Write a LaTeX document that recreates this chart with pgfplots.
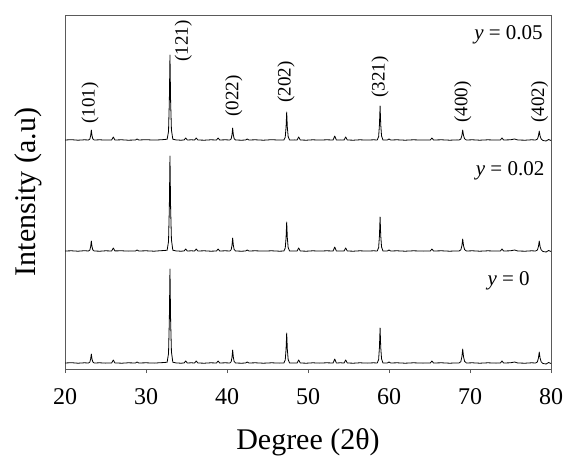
\documentclass[border=0pt]{standalone}
\usepackage{fontspec}
\setmainfont{Liberation Serif}
\usepackage{pgfplots}
\usepackage{pgfplotstable}
\pgfplotsset{compat=1.18}
\definecolor{spine}{HTML}{5A5A5A}

% x, y = 0 (a), y = 0.02 (b), y = 0.05 (c); traces stacked by offset
\pgfplotstableread{
x a b c
20.0 6.0 118.0 229.0
20.8 6.3 118.2 229.3
21.6 5.8 117.8 228.8
22.4 6.2 118.3 229.2
22.9 6.0 118.0 229.0
23.07 6.9 119.0 230.0
23.17 10.1 122.5 233.5
23.25 15.0 128.0 239.0
23.33 10.1 122.5 233.5
23.43 7.1 119.2 230.2
23.60 6.0 118.0 229.0
24.3 6.2 117.8 229.2
25.0 5.9 118.2 228.9
25.76 6.0 118.0 229.0
25.96 9.0 121.0 232.0
26.16 6.1 118.1 229.0
27.0 5.8 118.2 229.2
27.8 6.2 117.9 228.8
28.7 6.0 118.0 229.0
28.9 7.0 119.0 230.0
29.1 6.0 118.0 229.0
30.0 6.2 118.2 229.3
31.0 5.9 117.8 228.9
31.8 6.3 118.3 229.2
32.3 6.5 118.5 229.5
32.61 6.8 118.8 229.8
32.78 15.4 127.5 237.5
32.88 48.3 160.8 267.3
32.96 100.0 213.0 314.0
33.04 48.3 160.8 267.3
33.14 17.3 129.4 239.2
33.31 6.8 118.8 229.8
33.7 6.1 118.1 229.1
34.3 5.8 117.8 228.8
34.7 6.0 118.0 229.0
34.9 8.0 120.0 231.0
35.1 6.0 118.0 229.0
35.6 6.2 118.2 229.2
36.0 6.0 118.0 229.0
36.2 8.0 120.0 231.0
36.4 6.0 118.0 229.0
37.2 5.8 118.2 228.8
38.0 6.2 117.8 229.2
38.7 6.0 118.0 229.0
38.9 8.0 120.0 231.0
39.1 6.0 118.0 229.0
39.8 6.2 118.2 229.2
40.35 6.0 118.0 229.0
40.52 7.3 119.3 230.2
40.62 11.9 123.9 234.4
40.70 19.0 131.0 241.0
40.78 11.9 123.9 234.4
40.88 7.6 119.6 230.4
41.05 6.0 118.0 229.0
41.8 5.8 117.8 228.8
42.3 6.0 118.0 229.0
42.5 7.0 119.0 230.0
42.7 6.0 118.0 229.0
43.5 6.2 118.2 229.2
44.5 5.8 117.9 228.8
45.5 6.2 118.2 229.3
46.5 5.9 117.8 228.9
47.02 6.0 118.0 229.0
47.19 9.0 120.9 231.8
47.29 19.5 131.0 241.6
47.37 36.0 147.0 257.0
47.45 19.5 131.0 241.6
47.55 9.6 121.5 232.4
47.72 6.0 118.0 229.0
48.3 6.1 118.1 229.1
48.65 6.0 118.0 229.0
48.85 9.0 121.0 232.0
49.05 6.0 118.0 229.0
49.8 5.8 117.8 228.8
50.6 6.2 118.2 229.2
51.4 5.9 117.9 228.9
52.3 6.2 118.2 229.2
53.1 6.0 118.0 229.0
53.3 10.0 122.0 233.0
53.5 6.0 118.0 229.0
54.0 6.2 118.1 229.1
54.45 6.0 118.0 229.0
54.65 9.0 121.0 232.0
54.85 6.0 118.0 229.0
55.6 5.8 117.8 228.8
56.4 6.2 118.2 229.2
57.3 5.9 117.9 228.9
58.1 6.2 118.2 229.2
58.55 6.0 118.0 229.0
58.72 9.5 121.4 232.4
58.82 21.8 133.3 244.3
58.90 41.0 152.0 263.0
58.98 21.8 133.3 244.3
59.08 10.2 122.1 233.1
59.25 6.0 118.0 229.0
59.8 6.0 118.0 229.0
60.0 7.0 119.0 230.0
60.2 6.0 118.0 229.0
61.0 6.2 118.2 229.2
62.0 5.8 117.8 228.8
63.0 6.2 118.2 229.2
64.2 5.9 117.9 228.9
65.1 6.0 118.0 229.0
65.3 8.0 120.0 231.0
65.5 6.0 118.0 229.0
66.5 6.2 118.2 229.2
67.5 5.8 117.8 228.8
68.4 6.1 118.1 229.1
68.65 6.0 118.0 229.0
68.87 7.4 119.2 230.0
69.00 12.3 123.4 233.5
69.10 20.0 130.0 239.0
69.20 12.3 123.4 233.5
69.33 7.7 119.4 230.2
69.55 6.0 118.0 229.0
70.3 6.2 118.2 229.2
71.2 5.8 117.8 228.8
72.2 6.2 118.2 229.2
73.2 5.9 117.9 228.9
73.75 6.0 118.0 229.0
73.95 8.0 120.0 231.0
74.15 6.0 118.0 229.0
75.0 6.2 118.2 229.2
75.5 7.0 119.0 230.0
75.9 6.0 118.0 229.0
76.8 5.8 117.8 228.8
77.6 6.2 118.2 229.2
78.1 6.0 118.0 229.0
78.32 7.1 119.0 229.9
78.45 11.0 122.5 233.1
78.55 17.0 128.0 238.0
78.65 11.0 122.5 233.1
78.78 7.3 119.2 230.1
79.0 5.5 117.5 228.5
79.4 5.0 117.0 228.0
79.7 6.5 118.5 229.5
80.0 5.5 117.5 228.5
}\xrd

\begin{document}
\begin{tikzpicture}
\begin{axis}[
    name=main,
    scale only axis,
    width=486bp, height=354bp,
    xmin=20, xmax=80, ymin=0, ymax=354,
    xtick={20,30,...,80},
    ytick=\empty,
    xtick pos=bottom,
    tick align=outside,
    major tick length=4bp,
    axis line style={spine},
    tick style={spine},
    /pgf/number format/assume math mode=true,
    ticklabel style={font=\fontsize{24bp}{28bp}\selectfont},
    xticklabel style={anchor=north, inner sep=0pt, yshift=-15bp},
    label style={font=\fontsize{30bp}{34bp}\selectfont, inner sep=0pt},
    xlabel={Degree (2θ)},
    ylabel={Intensity (a.u)},
    xlabel style={at={(rel axis cs:0.5,0)}, anchor=base, yshift=-80bp},
    ylabel style={at={(rel axis cs:-0.047,0.5)}, anchor=south},
]
\addplot[black, line width=0.8bp, line join=round, no markers] table[x=x, y=a] {\xrd};
\addplot[black, line width=0.8bp, line join=round, no markers] table[x=x, y=b] {\xrd};
\addplot[black, line width=0.8bp, line join=round, no markers] table[x=x, y=c] {\xrd};

\begin{scope}[every node/.style={font=\fontsize{21bp}{24bp}\selectfont, inner sep=0pt}]
\node[anchor=east] at (axis cs:79.0,334) {\textit{y} = 0.05};
\node[anchor=east] at (axis cs:79.2,198) {\textit{y} = 0.02};
\node[anchor=east] at (axis cs:77.4,88) {\textit{y} = 0};
\end{scope}

\begin{scope}[every node/.style={font=\fontsize{19bp}{22bp}\selectfont, rotate=90, anchor=west, inner sep=0pt}]
\node at (axis cs:23.1,245) {(101)};
\node at (axis cs:34.6,307) {(121)};
\node at (axis cs:40.85,252) {(022)};
\node at (axis cs:47.3,266) {(202)};
\node at (axis cs:58.9,271) {(321)};
\node at (axis cs:69.1,246) {(400)};
\node at (axis cs:78.6,246) {(402)};
\end{scope}
\end{axis}
\pgfresetboundingbox
\useasboundingbox ([shift={(-65bp,-88bp)}]main.south west) rectangle ([shift={(13bp,15bp)}]main.north east);
\end{tikzpicture}
\end{document}
